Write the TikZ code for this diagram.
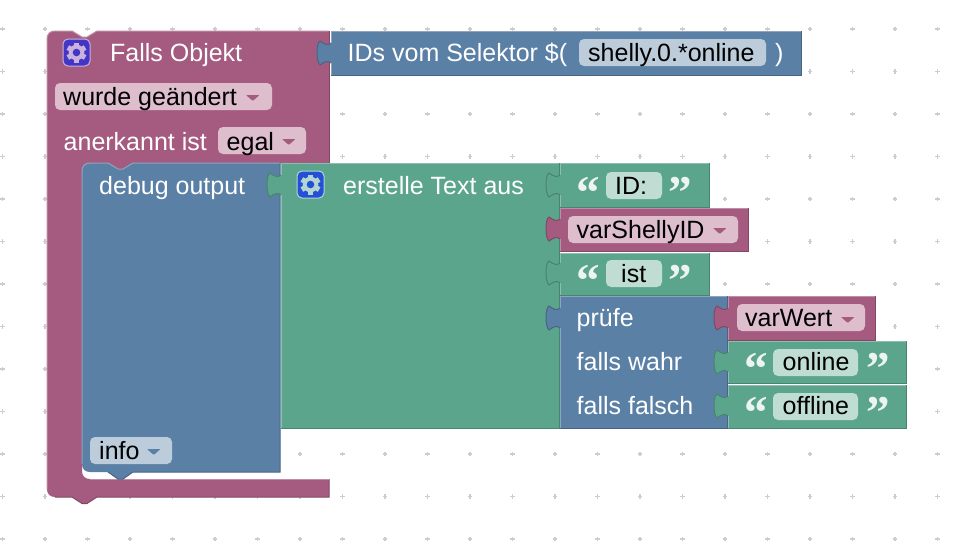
\documentclass[tikz,border=0pt]{standalone}
\usepackage{fontspec}
\setmainfont{Liberation Sans}
\newfontfamily\quotefont{Liberation Serif}
\usetikzlibrary{calc}
\definecolor{purpleblk}{HTML}{A55B80}
\definecolor{purplelit}{HTML}{C08CA6}
\definecolor{purpledrk}{HTML}{844866}
\definecolor{purplepil}{HTML}{DEBDCD}
\definecolor{blueblk}{HTML}{5B80A5}
\definecolor{bluelit}{HTML}{8CA6C0}
\definecolor{bluedrk}{HTML}{486684}
\definecolor{bluepil}{HTML}{BDCCDB}
\definecolor{greenblk}{HTML}{5BA58C}
\definecolor{greenlit}{HTML}{8CC0AE}
\definecolor{greendrk}{HTML}{488470}
\definecolor{greenpil}{HTML}{BFDDD2}
\definecolor{griddot}{HTML}{CDCDCD}
\definecolor{gearviolet}{HTML}{4235C8}
\definecolor{gearblue}{HTML}{2450D8}
\definecolor{gearpale}{HTML}{C9B2DC}
\definecolor{gearmint}{HTML}{B5D5D0}
\tikzset{
  lbl/.style={anchor=base west, inner sep=0pt, text=white, font=\fontsize{25}{30}\selectfont},
  fieldlbl/.style={lbl, text=black},
  quotemark/.style={anchor=base west, inner sep=0pt, text=white!88!greenblk, font=\quotefont\bfseries\fontsize{47}{56}\selectfont}
}
% block body: colour, left, top, right, bottom
\newcommand{\blockbody}[5]{
  \fill[#1blk] (#2,#3) rectangle (#4,#5);
  \draw[#1drk, line width=1pt] (#4,#3) -- (#4,#5) -- (#2,#5);
  \draw[#1lit, line width=1pt] (#2,#5) -- (#2,#3) -- (#4,#3);
}
% puzzle tab: edge, colour, x of joint, y of centre
\newcommand{\blocktab}[4]{
  \fill[#2blk] (#3+1,#4-10) .. controls (#3-3,#4-7) and (#3-7,#4-9) .. (#3-11,#4-12)
    .. controls (#3-15,#4-10) and (#3-15,#4+9) .. (#3-11,#4+12)
    .. controls (#3-7,#4+9) and (#3-3,#4+7) .. (#3+1,#4+10) -- cycle;
  \draw[#1, line width=1pt] (#3,#4-10) .. controls (#3-3,#4-7) and (#3-7,#4-9) .. (#3-11,#4-12)
    .. controls (#3-15,#4-10) and (#3-15,#4+9) .. (#3-11,#4+12)
    .. controls (#3-7,#4+9) and (#3-3,#4+7) .. (#3,#4+10);
}
% field background: colour, left, top, right, bottom
\newcommand{\fieldpill}[5]{
  \fill[#1pil, rounded corners=5pt] (#2,#3) rectangle (#4,#5);
}
% dropdown mark: colour, left, top
\newcommand{\dropmark}[3]{
  \fill[#1blk, rounded corners=0.8pt] (#2,#3) -- (#2+13.5,#3) -- (#2+6.75,#3+6) -- cycle;
}
% gear button: fill, gear colour, centre x, centre y
\newcommand{\gearicon}[4]{
  \fill[#1, draw=#2, line width=1pt, rounded corners=5pt] (#3-13.5,#4-13.5) rectangle (#3+13.5,#4+13.5);
  \foreach \a in {0,60,...,300}
    \fill[#2, rotate around={\a:(#3,#4)}] (#3-2.6,#4-10) rectangle (#3+2.6,#4);
  \fill[#2] (#3,#4) circle (7.8);
  \fill[#1] (#3,#4) circle (3.8);
}
\begin{document}
\begin{tikzpicture}[x=1pt, y=-1pt]
  \useasboundingbox (0,0) rectangle (962,544);
  \fill[white] (0,0) rectangle (962,544);
  % grid of the workspace
  \foreach \i in {0,1,...,22}
    \foreach \j in {0,1,...,12}
    {
      \draw[griddot, line width=1.2pt] ({2.5+42.5*\i-2.2},{29+42.5*\j}) -- ++(4.4,0);
      \draw[griddot, line width=1.2pt] ({2.5+42.5*\i},{29+42.5*\j-2.2}) -- ++(0,4.4);
    }
  % outer trigger block
  \fill[purpleblk] (47,39) .. controls (47,34) and (50,31) .. (55,31) -- (72,31) -- (82,37) -- (87,37) -- (97,31) -- (329,31) -- (329,163) -- (133,163) -- (123,170) -- (118,170) -- (108,163) -- (90,163)
    .. controls (85,163) and (82,166) .. (82,171) -- (82,471) .. controls (82,476) and (85,479) .. (90,479)
    -- (329,479) -- (329,497) -- (97,497) -- (87,503.5) -- (82,503.5) -- (72,497) -- (55,497)
    .. controls (50,497) and (47,494) .. (47,489) -- cycle;
  \draw[purplelit, line width=1pt] (47,489) -- (47,39) .. controls (47,34) and (50,31) .. (55,31) -- (72,31) -- (82,37) -- (87,37) -- (97,31) -- (329,31);
  \draw[purpledrk, line width=1pt] (329,31) -- (329,163);
  \draw[purpledrk, line width=1pt] (329,479) -- (329,497) -- (97,497) -- (87,503.5) -- (82,503.5) -- (72,497) -- (55,497);
  \draw[purplelit, line width=1pt] (329,479) -- (90,479);
  % debug block
  \fill[blueblk] (90,163) -- (108,163) -- (118,169) -- (123,169) -- (133,163) -- (280,163) -- (280,472) -- (133,472) -- (123,479) -- (118,479) -- (108,472) -- (90,472)
    .. controls (85,472) and (82,469) .. (82,464) -- (82,171) .. controls (82,166) and (85,163) .. (90,163) -- cycle;
  \draw[bluelit, line width=1pt] (82,464) -- (82,171) .. controls (82,166) and (85,163) .. (90,163) -- (108,163) -- (118,169) -- (123,169) -- (133,163) -- (280,163);
  \draw[bluedrk, line width=1pt] (280,163) -- (280,472) -- (133,472) -- (123,479) -- (118,479) -- (108,472);
  % value blocks
  \blockbody{green}{281}{163}{559}{428}
  \blockbody{blue}{331}{31}{801}{75}
  \blockbody{green}{560}{163}{709}{207}
  \blockbody{purple}{560}{208}{748}{251}
  \blockbody{green}{560}{253}{709}{295}
  \blockbody{blue}{560}{296}{727}{428}
  \blockbody{purple}{728}{296}{875}{340}
  \blockbody{green}{728}{341}{906}{383}
  \blockbody{green}{728}{385}{906}{428}
  % puzzle tabs
  \blocktab{bluedrk}{blue}{331}{53}
  \blocktab{greendrk}{green}{281}{185}
  \blocktab{greendrk}{green}{560}{185}
  \blocktab{purpledrk}{purple}{560}{229}
  \blocktab{greendrk}{green}{560}{273}
  \blocktab{bluedrk}{blue}{560}{318}
  \blocktab{purpledrk}{purple}{728}{318}
  \blocktab{greendrk}{green}{728}{362}
  \blocktab{greendrk}{green}{728}{406}
  % field backgrounds
  \fieldpill{purple}{55}{83}{272}{110}
  \fieldpill{purple}{218}{127}{306}{154}
  \fieldpill{blue}{579}{39}{766}{66}
  \fieldpill{blue}{90}{437}{172}{464}
  \fieldpill{green}{606}{172}{662}{199}
  \fieldpill{purple}{568}{216}{738}{243}
  \fieldpill{green}{606}{260}{662}{287}
  \fieldpill{purple}{737}{304}{865}{331}
  \fieldpill{green}{773}{349}{858}{376}
  \fieldpill{green}{773}{393}{858}{420}
  % dropdown marks
  \dropmark{purple}{246}{95}
  \dropmark{purple}{282}{139}
  \dropmark{blue}{147}{449}
  \dropmark{purple}{713}{228}
  \dropmark{purple}{841}{317}
  % gear buttons
  \gearicon{gearviolet}{gearpale}{76.5}{52.5}
  \gearicon{gearblue}{gearmint}{310.5}{184.5}
  % block labels
  \foreach \nm/\xx/\yy/\txt in {lblFalls/110/61/Falls Objekt, lblAnerkannt/63.5/150/anerkannt ist,
    lblDebug/99/194/debug output, lblText/343/194/erstelle Text aus, lblIDs/347.5/61/IDs vom Selektor \$(,
    lblClose/775/61/), lblPruefe/576.5/326/prüfe, lblWahr/576.5/370/falls wahr, lblFalsch/576.5/414/falls falsch}
  {
    \node[lbl] (\nm) at (\xx,\yy) {\txt};
  }
  % field labels
  \foreach \nm/\xx/\yy/\txt in {fldWurde/63/105/wurde geändert, fldEgal/226.5/150/egal, fldShelly/588/61/shelly.0.*online,
    fldInfo/99/459/info, fldID/615/194/ID:, fldVarID/576.5/238/varShellyID, fldIst/621/282/ist,
    fldVarWert/745/326/varWert, fldOnline/782.5/370/online, fldOffline/782.5/414/offline}
  {
    \node[fieldlbl] (\nm) at (\xx,\yy) {\txt};
  }
  % quote marks
  \foreach \nm/\xa/\xb/\yy in {qID/576/668/208, qIst/576/668/296, qOn/744/866/384, qOff/744/866/428}
  {
    \node[quotemark] (\nm L) at (\xa,\yy) {“};
    \node[quotemark] (\nm R) at (\xb,\yy) {”};
  }
\end{tikzpicture}
\end{document}
